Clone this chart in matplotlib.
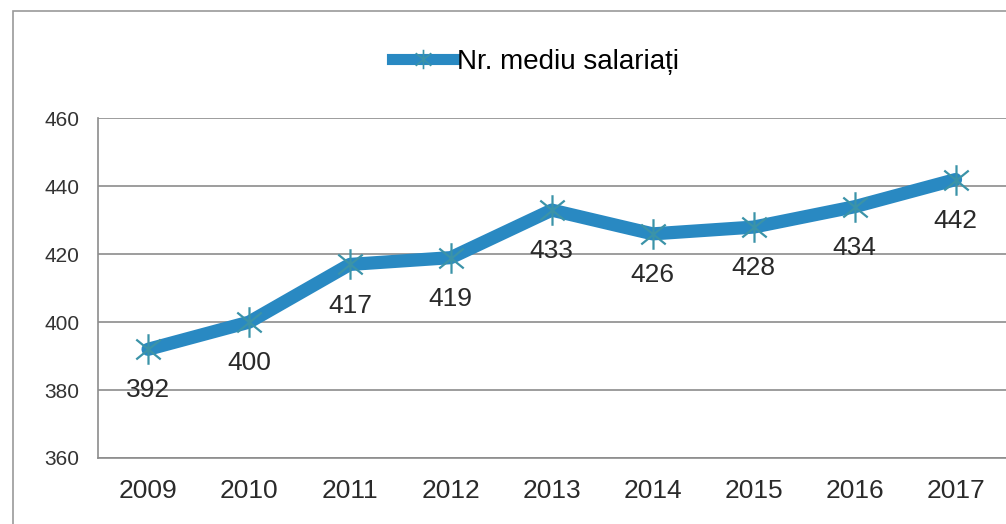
import matplotlib
matplotlib.use("Agg")
import matplotlib.pyplot as plt
from matplotlib.patches import Rectangle
from matplotlib.lines import Line2D
from matplotlib.path import Path

years = ["2009", "2010", "2011", "2012", "2013", "2014", "2015", "2016", "2017"]
values = [392, 400, 417, 419, 433, 426, 428, 434, 442]
yticks = [360, 380, 400, 420, 440, 460]
series_name = "Nr. mediu salariați"

plt.rcParams['font.family'] = ['Liberation Sans', 'DejaVu Sans']

star = Path([(0, -1), (0, 1), (-0.8, -0.65), (0.8, 0.65), (-0.8, 0.65), (0.8, -0.65)],
            [Path.MOVETO, Path.LINETO, Path.MOVETO, Path.LINETO, Path.MOVETO, Path.LINETO])

fig = plt.figure(figsize=(10.06, 5.24), dpi=100)
ax = fig.add_axes([0.097, 0.126, 0.903, 0.648])

x = list(range(len(years)))
line_color = "#2989C2"
mk_color = "#3B93A8"
ax.plot(x, values, color=line_color, linewidth=9.5, solid_capstyle="round",
        solid_joinstyle="round", zorder=3)
ax.plot(x, values, linestyle="none", marker=star, markersize=22,
        markeredgecolor=mk_color, markerfacecolor="none", markeredgewidth=1.6, zorder=4)

for xi, v in zip(x, values):
    ax.annotate(str(v), (xi, v), xytext=(0, -21), textcoords="offset points",
                ha="center", va="top", fontsize=19, color="#2a2a2a", zorder=5)

ax.set_ylim(360, 460)
ax.set_yticks(yticks)
ax.set_xlim(-0.5, len(years) - 0.5)
ax.set_xticks(x)
ax.set_xticklabels(years, fontsize=19, color="#2a2a2a")
ax.tick_params(axis="y", labelsize=15, colors="#333333", length=0, pad=13)
ax.tick_params(axis="x", length=0, pad=15)
ax.grid(axis="y", color="#8c8c8c", linewidth=1.2)
ax.set_axisbelow(True)
for s in ["top", "right"]:
    ax.spines[s].set_visible(False)
for s in ["left", "bottom"]:
    ax.spines[s].set_color("#8c8c8c")
    ax.spines[s].set_linewidth(1.2)

handle = Line2D([0], [0], color=line_color, linewidth=8,
                marker=star, markersize=14, markeredgecolor=mk_color,
                markerfacecolor="none", markeredgewidth=1.2)
fig.legend([handle], [series_name], loc="center", bbox_to_anchor=(0.532, 0.882),
           frameon=False, fontsize=20, handlelength=2.3, handletextpad=0.05)

fig.patches.append(Rectangle((0.013, -0.1), 1.2, 1.079, transform=fig.transFigure,
                             fill=False, edgecolor="#9a9a9a", linewidth=1.2))

fig.savefig("out.png", dpi=100)
